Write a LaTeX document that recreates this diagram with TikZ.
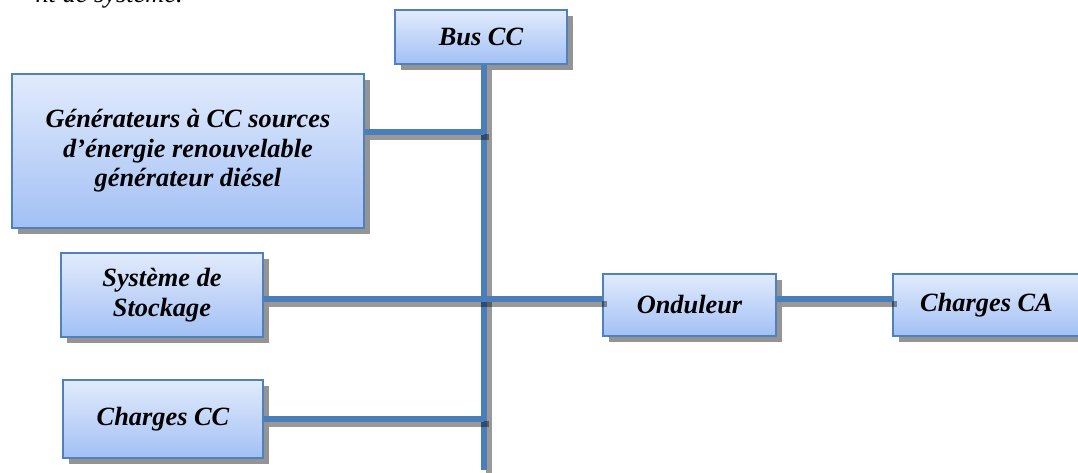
\documentclass[tikz,border=0pt]{standalone}
\usepackage{fontspec}
\setmainfont{Liberation Serif}
\usetikzlibrary{shadows}

\definecolor{boxline}{HTML}{4F81BD}
\definecolor{boxtop}{HTML}{E2EBFC}
\definecolor{boxbottom}{HTML}{A2C0F5}
\definecolor{busblue}{HTML}{4A7EBB}

\tikzset{
  bloc/.style={rectangle, draw=boxline, line width=0.8pt,
    top color=boxtop, bottom color=boxbottom, align=center,
    font=\fontsize{15}{16.8}\selectfont\bfseries\itshape,
    drop shadow={shadow xshift=0.12cm, shadow yshift=-0.12cm,
      fill=black!42, opacity=1}},
  bus/.style={draw=busblue, line width=3.4pt},
  busshadow/.style={draw=black, opacity=0.4, line width=3.4pt,
    transform canvas={shift={(0.1cm,-0.1cm)}}}
}

\begin{document}
\begin{tikzpicture}[x=0.02cm,y=-0.02cm]
\useasboundingbox (0,0) rectangle (1078,473);
% line of text cut by the top edge
\node[anchor=base east, inner sep=0pt, font=\fontsize{15}{17}\selectfont\itshape]
  (txt) at (183,3) {nt de système.};
% blocks
\node[bloc, minimum width=3.44cm, minimum height=1.08cm] (bus) at (481,37) {Bus CC};
\node[bloc, minimum width=7.04cm, minimum height=3.08cm] (gen) at (188,151)
  {Générateurs à CC sources\\d’énergie renouvelable\\générateur diésel};
\node[bloc, minimum width=4.04cm, minimum height=1.68cm] (stock) at (162,295)
  {Système de\\Stockage};
\node[bloc, minimum width=4.00cm, minimum height=1.56cm] (chcc) at (163,419) {Charges CC};
\node[bloc, minimum width=3.46cm, minimum height=1.24cm] (ond) at (689.5,305) {Onduleur};
\node[bloc, minimum width=3.74cm, minimum height=1.24cm] (chca) at (986.5,305) {Charges CA};
% bus bar and its branches
\coordinate (jg) at (484,132);
\coordinate (js) at (484,299);
\coordinate (jc) at (484,419);
\coordinate (bend) at (484,470);
\draw[busshadow] (bus.south -| bend) -- (bend);
\draw[bus] (bus.south -| bend) -- (bend);
\draw[busshadow] (gen.east |- jg) -- (jg);
\draw[bus] (gen.east |- jg) -- (jg);
\draw[busshadow] (stock.east |- js) -- (ond.west |- js);
\draw[bus] (stock.east |- js) -- (ond.west |- js);
\draw[busshadow] (ond.east |- js) -- (chca.west |- js);
\draw[bus] (ond.east |- js) -- (chca.west |- js);
\draw[busshadow] (chcc.east |- jc) -- (jc);
\draw[bus] (chcc.east |- jc) -- (jc);
\end{tikzpicture}
\end{document}
